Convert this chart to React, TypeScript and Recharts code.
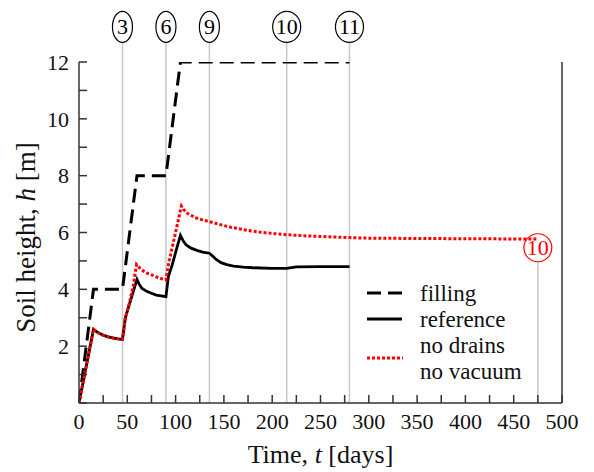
import React from 'react';
import { LineChart, Line, XAxis, YAxis, ReferenceLine } from 'recharts';

// ---- data ----
const fillT = [0, 15, 45, 60, 90, 105, 280];
const fillH = [0, 4, 4, 8, 8, 12, 12];

const refT = [0, 15, 20, 25, 30, 35, 40, 45, 48, 52, 56, 60, 62, 65, 70, 75, 80, 85, 90, 92.5, 96.5, 100, 105, 108, 111, 116, 122, 128, 135, 138, 142, 147, 153, 160, 170, 180, 200, 215, 225, 250, 280];
const refH = [0, 2.59, 2.47, 2.39, 2.33, 2.29, 2.26, 2.24, 3.0, 3.45, 3.9, 4.35, 4.2, 4.04, 3.93, 3.86, 3.8, 3.77, 3.74, 4.45, 4.86, 5.3, 5.9, 5.7, 5.56, 5.45, 5.37, 5.31, 5.27, 5.18, 5.05, 4.94, 4.87, 4.82, 4.78, 4.76, 4.74, 4.74, 4.79, 4.8, 4.8];

const noDrT = [0, 15, 20, 25, 30, 35, 40, 45, 48, 52, 56, 59.5, 62, 65, 70, 75, 80, 85, 90, 92.5, 106, 108, 112, 115, 120, 128, 135, 145, 155, 163, 175, 190, 205, 216, 235, 250, 280, 300, 350, 400, 475];
const noDrH = [0, 2.59, 2.47, 2.39, 2.33, 2.29, 2.26, 2.24, 3.0, 3.5, 4.1, 4.87, 4.78, 4.68, 4.58, 4.51, 4.44, 4.38, 4.33, 4.86, 6.93, 6.82, 6.68, 6.62, 6.53, 6.44, 6.38, 6.29, 6.2, 6.15, 6.07, 6.0, 5.95, 5.92, 5.88, 5.86, 5.82, 5.8, 5.79, 5.78, 5.77];

const markerT = [45, 90, 135, 215, 280];
const markerLabels = ['3', '6', '9', '10', '11'];
const markerTop = 12.69;
const redMarkerT = 475;
const redMarkerLabel = '10';
const redMarkerTop = 4.97;

const xTicks = [0, 25, 50, 75, 100, 125, 150, 175, 200, 225, 250, 275, 300, 325, 350, 375, 400, 425, 450, 475, 500];
const yTicks = [0, 1, 2, 3, 4, 5, 6, 7, 8, 9, 10, 11, 12];

const legendNames = ['filling', 'reference', 'no drains', 'no vacuum'];

const toPts = (t: number[], h: number[]) => t.map((x, i) => ({ t: x, h: h[i] }));
const fillData = toPts(fillT, fillH);
const refData = toPts(refT, refH);
const noDrData = toPts(noDrT, noDrH);

const FONT = 'Liberation Serif';
const AX = '#333';
const GRID = '#c8c8c8';
const RED = '#ff0000';

const circleLabel = (text: string, color: string, rx: number, ry: number) => (props: any) => {
  const vb = props.viewBox || {};
  const cx = vb.x;
  const cy = vb.y - ry;
  return (
    <g>
      <ellipse cx={cx} cy={cy} rx={rx} ry={ry} fill="#fff" stroke={color} strokeWidth={1.2} />
      <text x={cx} y={cy + 7.5} textAnchor="middle" fontFamily={FONT} fontSize={22} fill={color}>{text}</text>
    </g>
  );
};

const XTitle = (props: any) => {
  const vb = props.viewBox || {};
  return (
    <text x={vb.x + vb.width / 2} y={vb.y + 60} textAnchor="middle" fontFamily={FONT} fontSize={26} fill="#111">
      Time, <tspan fontStyle="italic">t</tspan> [days]
    </text>
  );
};

const YTitle = (props: any) => {
  const vb = props.viewBox || {};
  const cx = 35;
  const cy = vb.y + vb.height / 2 + 5;
  return (
    <text x={cx} y={cy} transform={`rotate(-90 ${cx} ${cy})`} textAnchor="middle" fontFamily={FONT} fontSize={27} fill="#111">
      Soil height, <tspan fontStyle="italic">h</tspan> [m]
    </text>
  );
};

const LegendBox = () => (
  <svg width={190} height={110} style={{ position: 'absolute', left: 360, top: 278 }}>
    <line x1={7} y1={15} x2={42} y2={15} stroke="#000" strokeWidth={3} strokeDasharray="14 7" />
    <text x={60} y={23} fontFamily={FONT} fontSize={23} fill="#111">{legendNames[0]}</text>
    <line x1={7} y1={41} x2={42} y2={41} stroke="#000" strokeWidth={3} />
    <text x={60} y={49} fontFamily={FONT} fontSize={23} fill="#111">{legendNames[1]}</text>
    <line x1={7} y1={80} x2={43} y2={80} stroke={RED} strokeWidth={3} strokeDasharray="3 2" />
    <text x={60} y={75} fontFamily={FONT} fontSize={23} fill="#111">{legendNames[2]}</text>
    <text x={60} y={101} fontFamily={FONT} fontSize={23} fill="#111">{legendNames[3]}</text>
  </svg>
);

export default function App() {
  const tickStyle = { fontFamily: FONT, fontSize: 22, fill: '#111' };
  return (
    <div style={{ position: 'absolute', left: 0, top: 0, width: 594, height: 472, background: '#fff', fontFamily: FONT }}>
      <LineChart width={594} height={472} margin={{ top: 62, right: 22, bottom: 29, left: 19 }}>
        <XAxis
          type="number"
          dataKey="t"
          domain={[0, 500]}
          ticks={xTicks}
          interval={0}
          allowDataOverflow
          tickFormatter={(v: number) => (v % 50 === 0 ? String(v) : '')}
          tick={tickStyle}
          tickSize={-8}
          tickMargin={18}
          height={40}
          stroke={AX}
          strokeWidth={1.5}
          label={XTitle}
        />
        <YAxis
          yAxisId="l"
          type="number"
          domain={[0, 12]}
          ticks={yTicks}
          interval={0}
          allowDataOverflow
          tickFormatter={(v: number) => (v > 0 && v % 2 === 0 ? String(v) : '')}
          tick={tickStyle}
          tickSize={-8}
          tickMargin={18}
          width={60}
          stroke={AX}
          strokeWidth={1.5}
          label={YTitle}
        />
        <YAxis
          yAxisId="r"
          orientation="right"
          type="number"
          domain={[0, 12]}
          ticks={yTicks}
          interval={0}
          tickFormatter={() => ''}
          tickSize={-8}
          width={10}
          stroke={AX}
          strokeWidth={1.5}
        />
        {markerT.map((t, i) => (
          <ReferenceLine
            key={'m' + i}
            yAxisId="l"
            segment={[{ x: t, y: 0 }, { x: t, y: markerTop }]}
            ifOverflow="visible"
            stroke={GRID}
            strokeWidth={1.5}
            label={circleLabel(markerLabels[i], '#000', markerLabels[i].length > 1 ? 14 : 10, 15.5)}
          />
        ))}
        <ReferenceLine
          yAxisId="l"
          segment={[{ x: redMarkerT, y: 0 }, { x: redMarkerT, y: redMarkerTop }]}
          ifOverflow="visible"
          stroke={GRID}
          strokeWidth={1.5}
          label={circleLabel(redMarkerLabel, RED, 14, 14)}
        />
        <Line yAxisId="l" data={fillData} dataKey="h" type="linear" stroke="#000" strokeWidth={3} strokeDasharray="14 7" dot={false} isAnimationActive={false} />
        <Line yAxisId="l" data={refData} dataKey="h" type="linear" stroke="#000" strokeWidth={2.8} dot={false} isAnimationActive={false} />
        <Line yAxisId="l" data={noDrData} dataKey="h" type="linear" stroke={RED} strokeWidth={3} strokeDasharray="3 2" dot={false} isAnimationActive={false} />
      </LineChart>
      <LegendBox />
    </div>
  );
}
